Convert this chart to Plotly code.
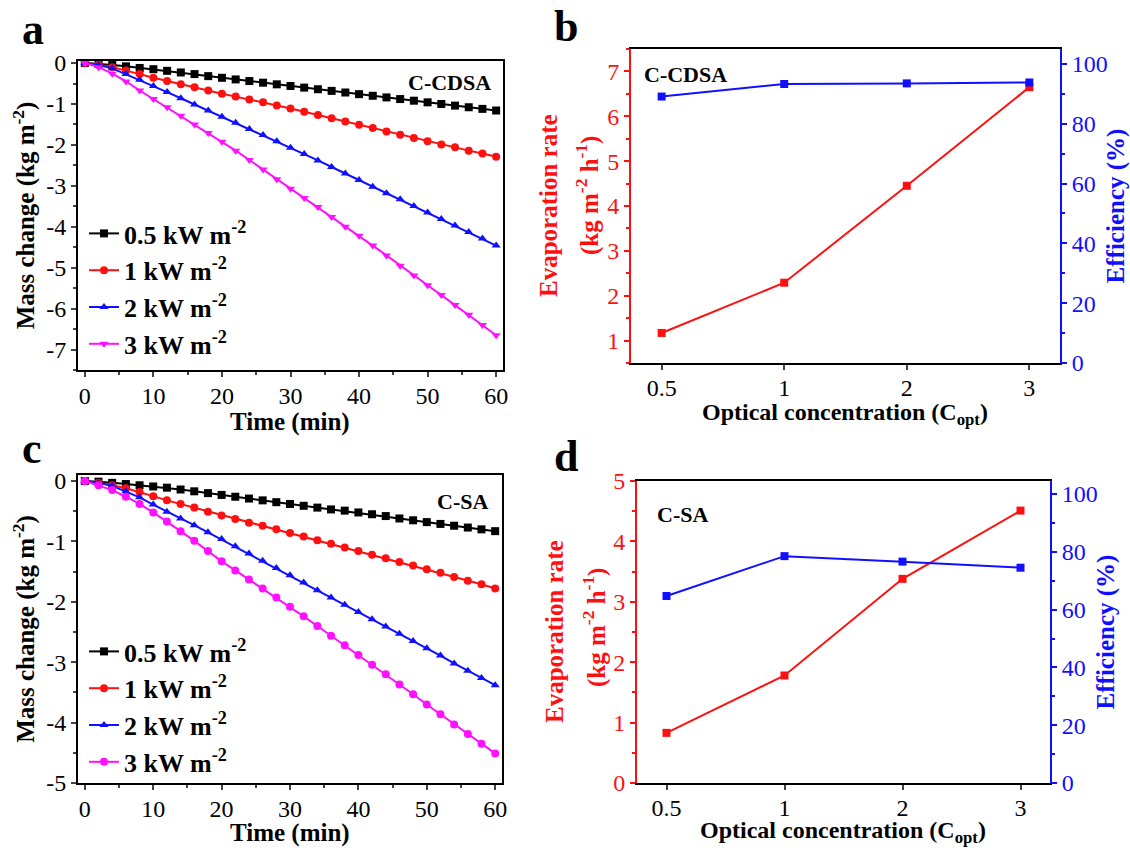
import plotly.graph_objects as go

# ---------------- data ----------------
TIME = list(range(0, 61, 2))

# Panel a: C-CDSA mass change (kg m^-2)
A_05 = [0, -0.02, -0.05, -0.08, -0.12, -0.15, -0.19, -0.23, -0.27, -0.32, -0.36, -0.40, -0.44, -0.48, -0.52, -0.56,
        -0.60, -0.64, -0.68, -0.72, -0.76, -0.80, -0.84, -0.88, -0.92, -0.96, -1.00, -1.04, -1.08, -1.12, -1.16]
A_1 = [0, -0.04, -0.10, -0.18, -0.27, -0.36, -0.44, -0.52, -0.59, -0.67, -0.75, -0.82, -0.89, -0.96, -1.04, -1.11,
       -1.19, -1.27, -1.35, -1.43, -1.51, -1.59, -1.67, -1.75, -1.83, -1.91, -1.99, -2.06, -2.14, -2.21, -2.29]
A_2 = [0, -0.05, -0.13, -0.27, -0.41, -0.56, -0.71, -0.86, -1.01, -1.16, -1.31, -1.46, -1.61, -1.76, -1.91, -2.07,
       -2.22, -2.38, -2.54, -2.70, -2.86, -3.02, -3.18, -3.33, -3.49, -3.65, -3.81, -3.97, -4.13, -4.29, -4.46]
A_3 = [0, -0.10, -0.26, -0.45, -0.67, -0.88, -1.08, -1.29, -1.50, -1.71, -1.92, -2.14, -2.37, -2.60, -2.84, -3.07,
       -3.30, -3.52, -3.76, -4.00, -4.22, -4.46, -4.70, -4.95, -5.19, -5.43, -5.67, -5.91, -6.15, -6.40, -6.65]

# Panel c: C-SA mass change (kg m^-2)
C_05 = [0, -0.01, -0.03, -0.05, -0.07, -0.09, -0.11, -0.14, -0.17, -0.20, -0.23, -0.26, -0.29, -0.32, -0.35, -0.38,
        -0.41, -0.44, -0.47, -0.49, -0.52, -0.55, -0.58, -0.62, -0.65, -0.68, -0.71, -0.74, -0.77, -0.80, -0.83]
C_1 = [0, -0.03, -0.07, -0.12, -0.18, -0.25, -0.32, -0.38, -0.44, -0.51, -0.57, -0.63, -0.69, -0.74, -0.80, -0.86,
       -0.92, -0.98, -1.04, -1.10, -1.16, -1.22, -1.28, -1.34, -1.40, -1.46, -1.52, -1.59, -1.65, -1.71, -1.78]
C_2 = [0, -0.03, -0.08, -0.17, -0.27, -0.39, -0.51, -0.62, -0.73, -0.85, -0.96, -1.08, -1.20, -1.32, -1.44, -1.56,
       -1.68, -1.81, -1.93, -2.05, -2.17, -2.29, -2.41, -2.53, -2.65, -2.77, -2.89, -3.02, -3.14, -3.26, -3.38]
C_3 = [0, -0.07, -0.15, -0.26, -0.38, -0.52, -0.67, -0.83, -0.99, -1.16, -1.33, -1.48, -1.63, -1.78, -1.93, -2.08,
       -2.24, -2.40, -2.56, -2.72, -2.88, -3.04, -3.20, -3.37, -3.53, -3.70, -3.86, -4.03, -4.19, -4.35, -4.51]

SERIES_NAMES = ["0.5 kW m<sup>-2</sup>", "1 kW m<sup>-2</sup>", "2 kW m<sup>-2</sup>", "3 kW m<sup>-2</sup>"]

# Panels b, d
C_OPT = ["0.5", "1", "2", "3"]
B_RATE = [1.17, 2.29, 4.45, 6.65]
B_EFF = [89.1, 93.3, 93.5, 93.8]
D_RATE = [0.83, 1.78, 3.38, 4.51]
D_EFF = [64.7, 78.5, 76.6, 74.5]

# ---------------- style ----------------
FONT = "Liberation Serif"
RED = "#ff1010"
BLUE = "#1010ff"
MAG = "#ff10ff"
BLK = "#000000"
COLORS = [BLK, RED, BLUE, MAG]
TS = 24   # tick font size
AS = 25   # axis title size
TICKF = dict(family=FONT, size=TS, color="black")
TITLEF = dict(family=FONT, size=AS, color="black", weight="bold")

W, H = 1130, 848


def dom_x(l, r):
    return [l / W, r / W]


def dom_y(top, bot):
    return [1 - bot / H, 1 - top / H]


fig = go.Figure()

symbols_a = ["square", "circle", "triangle-up", "triangle-down"]
symbols_c = ["square", "circle", "triangle-up", "circle"]

for ys, name, col, sym in zip([A_05, A_1, A_2, A_3], SERIES_NAMES, COLORS, symbols_a):
    fig.add_trace(go.Scatter(x=TIME, y=ys, name=name, mode="lines+markers",
                             line=dict(color=col, width=2), marker=dict(symbol=sym, size=8, color=col),
                             xaxis="x", yaxis="y", legend="legend"))

for ys, name, col, sym in zip([C_05, C_1, C_2, C_3], SERIES_NAMES, COLORS, symbols_c):
    fig.add_trace(go.Scatter(x=TIME, y=ys, name=name, mode="lines+markers",
                             line=dict(color=col, width=2), marker=dict(symbol=sym, size=8, color=col),
                             xaxis="x3", yaxis="y4", legend="legend2"))

# b
fig.add_trace(go.Scatter(x=C_OPT, y=B_RATE, mode="lines+markers", line=dict(color=RED, width=2),
                         marker=dict(symbol="square", size=8, color=RED), xaxis="x2", yaxis="y2", showlegend=False))
fig.add_trace(go.Scatter(x=C_OPT, y=B_EFF, mode="lines+markers", line=dict(color=BLUE, width=2),
                         marker=dict(symbol="square", size=8, color=BLUE), xaxis="x2", yaxis="y3", showlegend=False))
# d
fig.add_trace(go.Scatter(x=C_OPT, y=D_RATE, mode="lines+markers", line=dict(color=RED, width=2),
                         marker=dict(symbol="square", size=8, color=RED), xaxis="x4", yaxis="y5", showlegend=False))
fig.add_trace(go.Scatter(x=C_OPT, y=D_EFF, mode="lines+markers", line=dict(color=BLUE, width=2),
                         marker=dict(symbol="square", size=8, color=BLUE), xaxis="x4", yaxis="y6", showlegend=False))


def time_x(anchor, dom):
    return dict(domain=dom, anchor=anchor, range=[-1, 61], tickvals=[0, 10, 20, 30, 40, 50, 60],
                ticks="outside", ticklen=5, tickwidth=1.5, showline=True, linewidth=2, linecolor="black",
                mirror=True, showgrid=False, zeroline=False, tickfont=TICKF, automargin=False,
                ticklabelstandoff=-2,
                minor=dict(ticks="outside", ticklen=3, dtick=5, tickwidth=1.5, showgrid=False))


def mass_y(anchor, dom, rng, tv):
    return dict(domain=dom, anchor=anchor, range=rng, tickvals=tv, ticktext=[str(v) for v in tv],
                ticks="outside", ticklen=5, tickwidth=1.5, showline=True, linewidth=2, linecolor="black",
                mirror=True, showgrid=False, zeroline=False, tickfont=TICKF, automargin=False,
                minor=dict(ticks="outside", ticklen=3, dtick=0.5, tickwidth=1.5, showgrid=False),
                title=dict(text="Mass change (kg m<sup>-2</sup>)", font=TITLEF, standoff=4))


def opt_x(anchor, dom):
    return dict(domain=dom, anchor=anchor, type="category", range=[-0.25, 3.25],
                ticks="outside", ticklen=5, tickwidth=1.5, showline=True, linewidth=2, linecolor="black",
                mirror=True, showgrid=False, zeroline=False, tickfont=TICKF, automargin=False,
                ticklabelstandoff=-3)


def rate_y(anchor, dom, rng, dtick, minor):
    return dict(domain=dom, anchor=anchor, range=rng, dtick=dtick, tick0=0,
                ticks="outside", ticklen=5, tickwidth=1.5, showline=True, linewidth=2, linecolor=RED,
                tickcolor=RED, showgrid=False, zeroline=False, automargin=False,
                tickfont=dict(family=FONT, size=TS, color=RED),
                minor=dict(ticks="outside", ticklen=3, dtick=minor, tickwidth=1.5, tickcolor=RED, showgrid=False))


def eff_y(anchor, overlay, rng):
    return dict(anchor=anchor, overlaying=overlay, side="right", range=rng, dtick=20, tick0=0,
                ticks="outside", ticklen=5, tickwidth=1.5, showline=True, linewidth=2, linecolor=BLUE,
                tickcolor=BLUE, showgrid=False, zeroline=False, automargin=False,
                tickfont=dict(family=FONT, size=TS, color=BLUE),
                minor=dict(ticks="outside", ticklen=3, dtick=10, tickwidth=1.5, tickcolor=BLUE, showgrid=False),
                title=dict(text="Efficiency (%)", font=dict(family=FONT, size=AS, color=BLUE, weight="bold"),
                           standoff=0))


DA_X, DA_Y = dom_x(78, 503), dom_y(61, 370)
DB_X, DB_Y = dom_x(631, 1060), dom_y(49, 363)
DC_X, DC_Y = dom_x(78, 502), dom_y(475, 783)
DD_X, DD_Y = dom_x(637, 1050), dom_y(481, 783)

legend_common = dict(font=dict(family=FONT, size=26, color="black", weight="bold"),
                     bgcolor="rgba(0,0,0,0)", xanchor="left", yanchor="top", tracegroupgap=0,
                     itemwidth=30)

fig.update_layout(
    width=W, height=H, margin=dict(l=0, r=0, t=0, b=0, autoexpand=False),
    paper_bgcolor="white", plot_bgcolor="white",
    font=dict(family=FONT, color="black"),
    xaxis=time_x("y", DA_X),
    yaxis=mass_y("x", DA_Y, [-7.5, 0.05], [0, -1, -2, -3, -4, -5, -6, -7]),
    xaxis2=opt_x("y2", DB_X),
    yaxis2=rate_y("x2", DB_Y, [0.5, 7.5], 1, 0.5),
    yaxis3=eff_y("x2", "y2", [0, 105]),
    xaxis3=time_x("y4", DC_X),
    yaxis4=mass_y("x3", DC_Y, [-5, 0.1], [0, -1, -2, -3, -4, -5]),
    xaxis4=opt_x("y5", DD_X),
    yaxis5=rate_y("x4", DD_Y, [0, 5], 1, 0.5),
    yaxis6=eff_y("x4", "y5", [0, 104.5]),
    legend=dict(x=84 / W, y=1 - 210 / H, **legend_common),
    legend2=dict(x=84 / W, y=1 - 628 / H, **legend_common),
)


def ann(text, x, y, font, xanchor="center", yanchor="middle", angle=0):
    fig.add_annotation(text=text, x=x / W, y=1 - y / H, xref="paper", yref="paper", xanchor=xanchor,
                       yanchor=yanchor, showarrow=False, textangle=angle, font=font)


PANEL_F = dict(family=FONT, size=44, color="black", weight="bold")
for txt, x, y in [("a", 20, 29), ("b", 552, 27), ("c", 20, 449), ("d", 552, 457)]:
    ann(txt, x, y, PANEL_F, xanchor="left")

LAB_F = dict(family=FONT, size=22, color="black", weight="bold")
ann("C-CDSA", 493, 82, LAB_F, xanchor="right")
ann("C-CDSA", 642, 74, LAB_F, xanchor="left")
ann("C-SA", 490, 501, LAB_F, xanchor="right")
ann("C-SA", 655, 514, LAB_F, xanchor="left")

# x-axis titles
OPT_F = dict(family=FONT, size=24, color="black", weight="bold")
ann("Time (min)", 290, 422, TITLEF)
ann("Time (min)", 290, 833, TITLEF)
ann("Optical concentration (C<sub>opt</sub>)", 845, 414, OPT_F)
ann("Optical concentration (C<sub>opt</sub>)", 843, 832, OPT_F)

# left (red) titles of b and d, two lines each
RED_F = dict(family=FONT, size=AS, color=RED, weight="bold")
ann("Evaporation rate", 548, 206, RED_F, angle=-90)
ann("(kg m<sup>-2</sup> h<sup>-1</sup>)", 587, 196, RED_F, angle=-90)
ann("Evaporation rate", 554, 632, RED_F, angle=-90)
ann("(kg m<sup>-2</sup> h<sup>-1</sup>)", 594, 628, RED_F, angle=-90)

fig.write_html("out.html")
